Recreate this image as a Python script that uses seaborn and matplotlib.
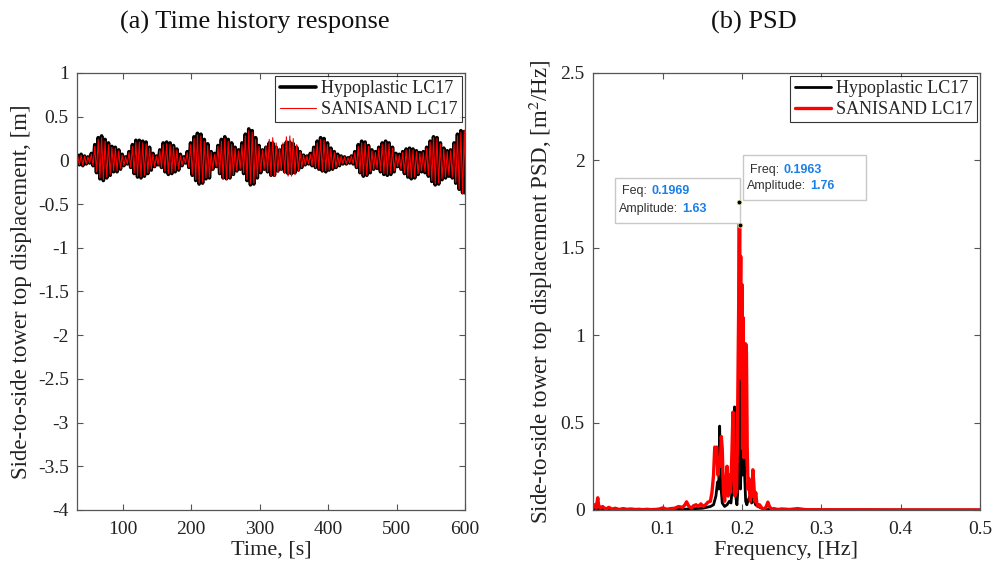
import numpy as np
import pandas as pd
import matplotlib
matplotlib.use("Agg")
import matplotlib.pyplot as plt
from matplotlib.patches import FancyBboxPatch
import seaborn as sns

# ---------------- data ----------------
# time history: peak amplitudes per oscillation cycle (upper peak / lower peak magnitude)
cycle_start = 34.0      # s, time of first upper peak
cycle_period = 5.0      # s, ~0.2 Hz response
hypo_upper = [0.06,0.07,0.05,0.04,0.08,0.18,0.26,0.28,0.24,0.20,
              0.16,0.15,0.12,0.07,0.04,0.10,0.18,0.23,0.23,0.22,
              0.21,0.15,0.08,0.05,0.12,0.20,0.21,0.20,0.17,0.13,
              0.07,0.04,0.10,0.20,0.27,0.31,0.30,0.24,0.19,0.10,
              0.08,0.17,0.24,0.27,0.24,0.20,0.15,0.12,0.20,0.30,
              0.36,0.34,0.26,0.17,0.12,0.15,0.20,0.20,0.15,0.12,
              0.17,0.21,0.21,0.19,0.15,0.10,0.06,0.05,0.08,0.15,
              0.22,0.26,0.25,0.20,0.14,0.10,0.07,0.05,0.04,0.03,
              0.05,0.10,0.18,0.22,0.21,0.17,0.12,0.10,0.15,0.20,
              0.22,0.20,0.15,0.08,0.07,0.10,0.13,0.14,0.13,0.11,
              0.09,0.10,0.15,0.22,0.27,0.26,0.20,0.14,0.11,0.12,
              0.20,0.30,0.34,0.33]
hypo_lower = [0.05,0.06,0.04,0.03,0.06,0.14,0.21,0.23,0.20,0.17,
              0.13,0.13,0.10,0.06,0.04,0.08,0.15,0.19,0.20,0.18,
              0.15,0.11,0.07,0.05,0.08,0.13,0.16,0.15,0.13,0.11,
              0.06,0.03,0.08,0.17,0.23,0.27,0.26,0.21,0.20,0.10,
              0.07,0.15,0.20,0.21,0.20,0.16,0.12,0.10,0.15,0.23,
              0.28,0.27,0.20,0.14,0.10,0.13,0.17,0.17,0.12,0.10,
              0.13,0.15,0.15,0.14,0.11,0.08,0.05,0.04,0.06,0.08,
              0.10,0.12,0.13,0.11,0.10,0.08,0.06,0.04,0.04,0.03,
              0.04,0.08,0.14,0.18,0.17,0.14,0.10,0.09,0.13,0.16,
              0.17,0.16,0.13,0.07,0.10,0.15,0.19,0.21,0.20,0.16,
              0.13,0.14,0.18,0.24,0.28,0.27,0.22,0.20,0.18,0.20,
              0.26,0.33,0.37,0.38]
sani_upper = [0.05,0.06,0.05,0.04,0.07,0.16,0.24,0.26,0.22,0.18,
              0.15,0.14,0.11,0.06,0.04,0.09,0.16,0.21,0.21,0.20,
              0.19,0.14,0.07,0.05,0.11,0.18,0.19,0.18,0.16,0.12,
              0.06,0.04,0.09,0.18,0.25,0.29,0.28,0.22,0.17,0.09,
              0.07,0.16,0.22,0.25,0.22,0.18,0.14,0.11,0.18,0.28,
              0.34,0.32,0.24,0.16,0.12,0.16,0.24,0.26,0.20,0.14,
              0.20,0.27,0.28,0.25,0.18,0.10,0.06,0.05,0.07,0.14,
              0.20,0.24,0.23,0.18,0.13,0.09,0.06,0.05,0.04,0.03,
              0.05,0.09,0.16,0.20,0.20,0.16,0.11,0.09,0.14,0.19,
              0.21,0.19,0.14,0.07,0.06,0.09,0.12,0.13,0.12,0.10,
              0.08,0.09,0.14,0.21,0.26,0.25,0.19,0.13,0.10,0.11,
              0.19,0.28,0.32,0.34]
sani_lower = [0.05,0.06,0.04,0.03,0.06,0.13,0.20,0.22,0.19,0.16,
              0.12,0.12,0.09,0.06,0.04,0.08,0.14,0.18,0.19,0.17,
              0.14,0.10,0.07,0.05,0.08,0.12,0.15,0.14,0.12,0.10,
              0.06,0.03,0.08,0.16,0.22,0.26,0.25,0.20,0.19,0.10,
              0.07,0.15,0.21,0.22,0.20,0.16,0.12,0.10,0.14,0.22,
              0.27,0.26,0.19,0.13,0.10,0.13,0.18,0.18,0.14,0.11,
              0.15,0.18,0.18,0.16,0.12,0.08,0.05,0.04,0.06,0.08,
              0.10,0.12,0.12,0.11,0.09,0.08,0.06,0.04,0.04,0.03,
              0.04,0.08,0.14,0.17,0.17,0.13,0.10,0.09,0.12,0.15,
              0.16,0.15,0.12,0.07,0.10,0.14,0.18,0.20,0.19,0.15,
              0.12,0.13,0.17,0.23,0.27,0.26,0.21,0.19,0.17,0.19,
              0.25,0.33,0.38,0.40]

# PSD
hypo_freq = [0.012, 0.02, 0.05, 0.1, 0.13, 0.15, 0.16, 0.164, 0.167, 0.169, 0.1705,
             0.1717, 0.173, 0.175, 0.178, 0.181, 0.184, 0.186, 0.188, 0.1895, 0.1905,
             0.1914, 0.1925, 0.1935, 0.1945, 0.1955, 0.1963, 0.197, 0.198, 0.199, 0.2005,
             0.2015, 0.2023, 0.2032, 0.2045, 0.206, 0.208, 0.21, 0.212, 0.214, 0.217,
             0.22, 0.225, 0.23, 0.24, 0.26, 0.3, 0.5]
hypo_psd = [0.005, 0.004, 0.002, 0.003, 0.005, 0.01, 0.02, 0.03, 0.08, 0.16, 0.12,
            0.48, 0.15, 0.04, 0.02, 0.03, 0.05, 0.04, 0.15, 0.35, 0.59,
            0.30, 0.06, 0.03, 0.10, 0.40, 1.76, 0.35, 0.12, 0.34, 0.20,
            0.40, 0.48, 0.20, 0.05, 0.03, 0.06, 0.08, 0.04, 0.07, 0.03,
            0.02, 0.01, 0.005, 0.003, 0.002, 0.001, 0.0]
sani_freq = [0.012, 0.014, 0.016, 0.018, 0.019, 0.021, 0.024, 0.028, 0.032, 0.036, 0.04,
             0.045, 0.05, 0.055, 0.06, 0.065, 0.07, 0.075, 0.08, 0.085, 0.09, 0.095, 0.1,
             0.105, 0.11, 0.115, 0.12, 0.125, 0.128, 0.13, 0.133, 0.136, 0.139, 0.142,
             0.145, 0.148, 0.151, 0.154, 0.157, 0.16, 0.162, 0.164, 0.1655, 0.1667, 0.168,
             0.1695, 0.171, 0.1725, 0.1738, 0.175, 0.1765, 0.178, 0.1795, 0.181, 0.1825,
             0.184, 0.1855, 0.187, 0.1885, 0.1893, 0.19, 0.191, 0.192, 0.193, 0.194, 0.195,
             0.196, 0.1969, 0.1976, 0.1983, 0.199, 0.1998, 0.2006, 0.2014, 0.2022, 0.203,
             0.2038, 0.2046, 0.2055, 0.2065, 0.2075, 0.2085, 0.2095, 0.2105, 0.2115, 0.2125,
             0.2136, 0.2148, 0.216, 0.2172, 0.2185, 0.22, 0.222, 0.225, 0.228, 0.2305,
             0.2325, 0.2345, 0.237, 0.24, 0.245, 0.25, 0.26, 0.27, 0.28, 0.3, 0.35, 0.4,
             0.45, 0.5]
sani_psd = [0.02, 0.03, 0.01, 0.07, 0.03, 0.01, 0.02, 0.005, 0.015, 0.005, 0.01,
            0.003, 0.008, 0.004, 0.006, 0.003, 0.004, 0.002, 0.004, 0.002, 0.003, 0.005, 0.012,
            0.004, 0.008, 0.01, 0.02, 0.015, 0.03, 0.047, 0.02, 0.012, 0.025, 0.03,
            0.02, 0.035, 0.02, 0.03, 0.045, 0.05, 0.10, 0.20, 0.36, 0.33, 0.36,
            0.20, 0.30, 0.25, 0.42, 0.35, 0.10, 0.05, 0.15, 0.25, 0.08,
            0.20, 0.10, 0.30, 0.56, 0.45, 0.20, 0.08, 0.25, 0.10, 0.35, 0.85,
            1.30, 1.63, 1.20, 1.45, 0.75, 1.29, 0.35, 1.10, 0.30, 0.95,
            0.45, 0.95, 0.90, 0.35, 0.12, 0.18, 0.10, 0.05, 0.12, 0.08,
            0.23, 0.15, 0.05, 0.10, 0.04, 0.02, 0.03, 0.01, 0.005, 0.02,
            0.045, 0.02, 0.005, 0.008, 0.003, 0.006, 0.003, 0.008, 0.002, 0.001, 0.001, 0.0,
            0.0, 0.0]

series_names = ["Hypoplastic LC17", "SANISAND LC17"]
left_yticks = [-4, -3.5, -3, -2.5, -2, -1.5, -1, -0.5, 0, 0.5, 1]
left_xticks = [100, 200, 300, 400, 500, 600]
right_yticks = [0, 0.5, 1, 1.5, 2, 2.5]
right_xticks = [0.1, 0.2, 0.3, 0.4, 0.5]


def zigzag(upper, lower):
    n = len(upper)
    t_up = cycle_start + cycle_period * np.arange(n)
    t_lo = t_up + cycle_period / 2
    t = np.empty(2 * n)
    y = np.empty(2 * n)
    t[0::2], t[1::2] = t_up, t_lo
    y[0::2], y[1::2] = np.array(upper), -np.array(lower)
    return pd.DataFrame({"t": t, "y": y})


df_h = zigzag(hypo_upper, hypo_lower)
df_s = zigzag(sani_upper, sani_lower)
psd_h = pd.DataFrame({"f": hypo_freq, "p": hypo_psd})
psd_s = pd.DataFrame({"f": sani_freq, "p": sani_psd})

# ---------------- style ----------------
sns.set_style("ticks")
plt.rcParams["font.family"] = ["Liberation Serif", "DejaVu Serif"]
plt.rcParams["mathtext.fontset"] = "stix"
plt.rcParams["axes.unicode_minus"] = False
plt.rcParams["xtick.direction"] = "in"
plt.rcParams["ytick.direction"] = "in"

fig = plt.figure(figsize=(9.95, 5.66), dpi=100)
ax1 = fig.add_axes([77 / 995, 56 / 566, 388 / 995, 437 / 566])
ax2 = fig.add_axes([593 / 995, 56 / 566, 387 / 995, 437 / 566])

spine_col = "#555555"
for ax in (ax1, ax2):
    for s in ax.spines.values():
        s.set_color(spine_col)
        s.set_linewidth(0.9)
    ax.tick_params(axis="both", which="both", direction="in", top=True, right=True,
                   length=4, width=0.8, color=spine_col, labelsize=14,
                   labelcolor="#222222")
    ax.tick_params(axis="x", pad=8)
    ax.tick_params(axis="y", pad=6)

# ---- (a) time history ----
sns.lineplot(data=df_h, x="t", y="y", ax=ax1, color="black", lw=2.6,
             estimator=None, sort=False, label=series_names[0])
sns.lineplot(data=df_s, x="t", y="y", ax=ax1, color="red", lw=0.8,
             estimator=None, sort=False, label=series_names[1])
ax1.set_xlim(33, 600)
ax1.set_ylim(-4, 1)
ax1.set_yticks(left_yticks)
ax1.set_yticklabels([f"{v:g}" for v in left_yticks])
ax1.set_xticks(left_xticks)
ax1.set_xticklabels([str(v) for v in left_xticks])
ax1.set_xlabel("Time, [s]", fontsize=16, labelpad=2, color="#222222")
ax1.set_ylabel("Side-to-side tower top displacement, [m]", fontsize=16.5,
               labelpad=4, color="#222222")
leg1 = ax1.legend(loc="upper right", fontsize=13, frameon=True, fancybox=False,
                  edgecolor="black", borderaxespad=0.15, handlelength=2.0,
                  borderpad=0.25, labelspacing=0.2, handletextpad=0.3)
leg1.get_frame().set_linewidth(0.8)

# ---- (b) PSD ----
sns.lineplot(data=psd_h, x="f", y="p", ax=ax2, color="black", lw=2.0,
             estimator=None, label=series_names[0])
sns.lineplot(data=psd_s, x="f", y="p", ax=ax2, color="red", lw=2.4,
             estimator=None, label=series_names[1])
ax2.set_xlim(0.012, 0.5)
ax2.set_ylim(0, 2.5)
ax2.set_yticks(right_yticks)
ax2.set_yticklabels([f"{v:g}" for v in right_yticks])
ax2.set_xticks(right_xticks)
ax2.set_xticklabels([f"{v:g}" for v in right_xticks])
ax2.set_xlabel("Frequency, [Hz]", fontsize=16, labelpad=2, color="#222222")
ax2.set_ylabel("Side-to-side tower top displacement PSD, [m$^2$/Hz]", fontsize=16.5,
               labelpad=4, color="#222222")
leg2 = ax2.legend(loc="upper right", fontsize=13, frameon=True, fancybox=False,
                  edgecolor="black", borderaxespad=0.15, handlelength=2.0,
                  borderpad=0.25, labelspacing=0.2, handletextpad=0.3)
leg2.get_frame().set_linewidth(0.8)

# data tips
ih = int(np.argmax(hypo_psd))
isn = int(np.argmax(sani_psd))
tips = [
    (sani_freq[isn], sani_psd[isn], "Feq:", (0.057, 0.657, 0.380, 0.760), (0.076, 0.731), (0.068, 0.688)),
    (hypo_freq[ih], hypo_psd[ih], "Freq:", (0.388, 0.709, 0.705, 0.812), (0.405, 0.778), (0.399, 0.741)),
]
tipfont = ["Liberation Sans", "DejaVu Sans"]
fs_tip = 9
for f, a, lab, box, p1, p2 in tips:
    x0, y0, x1, y1 = box
    ax2.add_patch(FancyBboxPatch((x0, y0), x1 - x0, y1 - y0, boxstyle="square,pad=0",
                                 transform=ax2.transAxes, facecolor="white",
                                 edgecolor="#c8c8c8", lw=1.0, zorder=5))
    t1 = ax2.text(p1[0], p1[1], lab, transform=ax2.transAxes, fontsize=fs_tip,
                  family=tipfont, color="#333333", va="center", ha="left", zorder=6)
    ax2.annotate(f"{f:.4f}", xy=(1, 0), xycoords=t1, xytext=(3, 0),
                 textcoords="offset points", va="bottom", ha="left",
                 fontsize=fs_tip, family=tipfont, color="#1a7fe8", weight="bold", zorder=6)
    t2 = ax2.text(p2[0], p2[1], "Amplitude:", transform=ax2.transAxes, fontsize=fs_tip,
                  family=tipfont, color="#333333", va="center", ha="left", zorder=6)
    ax2.annotate(f"{a:.2f}", xy=(1, 0), xycoords=t2, xytext=(3, 0),
                 textcoords="offset points", va="bottom", ha="left",
                 fontsize=fs_tip, family=tipfont, color="#1a7fe8", weight="bold", zorder=6)
    ax2.plot([f], [a], marker="o", ms=3.5, color="black", mec="#e8e8b0", mew=0.6, zorder=7)

# titles
fig.text(255 / 995, 1 - 22 / 566, "(a) Time history response", ha="center", va="center",
         fontsize=19, color="#111111")
fig.text(754 / 995, 1 - 22 / 566, "(b) PSD", ha="center", va="center",
         fontsize=19, color="#111111")

fig.savefig("out.png", dpi=100)
